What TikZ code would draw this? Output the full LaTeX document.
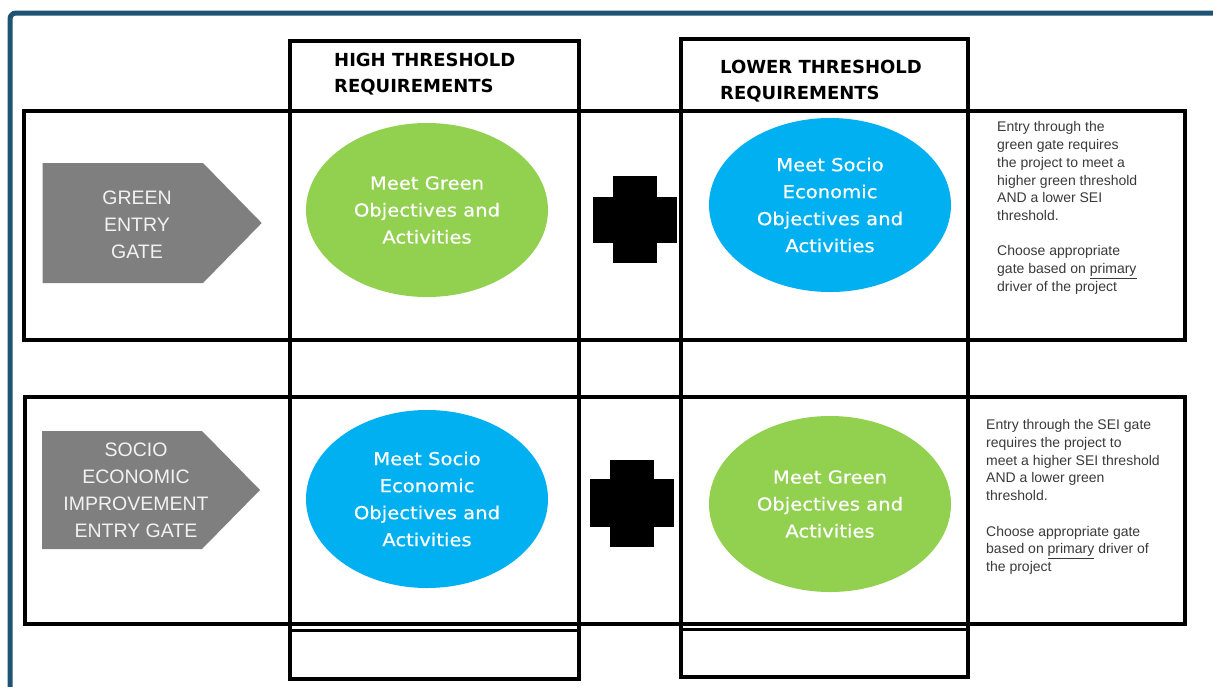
\documentclass[tikz,border=0pt]{standalone}
\usepackage{fontspec}
\setmainfont{Liberation Sans}
\newfontfamily\hdrfont{DejaVu Sans}
\newfontfamily\ellfont[FakeStretch=1.1,FakeBold=0.6]{DejaVu Sans}
\usetikzlibrary{shapes.geometric}
\definecolor{frameblue}{HTML}{1F5374}
\definecolor{gatefill}{HTML}{7F7F7F}
\definecolor{gtext}{HTML}{F2F2F2}
\definecolor{greenfill}{HTML}{92D050}
\definecolor{bluefill}{HTML}{00B0F0}
\definecolor{notetext}{HTML}{3A3A3A}
\tikzset{
  colbox/.style={draw=black, line width=3.5pt},
  rowbox/.style={draw=black, line width=4pt},
  oval/.style={ellipse, minimum width=242pt, inner sep=0pt, text=white, align=center,
    font=\ellfont\fontsize{17.8}{27}\selectfont},
  gateshape/.style={fill=gatefill},
  gatetext/.style={text=gtext, align=center, inner sep=0pt, font=\fontsize{19.5}{27}\selectfont},
  hdr/.style={anchor=west, align=left, inner sep=0pt, font=\hdrfont\bfseries\fontsize{18}{26}\selectfont},
  note/.style={anchor=west, align=left, inner sep=0pt, text=notetext, font=\fontsize{14}{17.7}\selectfont},
  plusbar/.style={fill=black}
}
\begin{document}
\begin{tikzpicture}[x=1pt,y=-1pt]
\useasboundingbox (0,0) rectangle (1213,686);
\fill[white] (0,0) rectangle (1213,686);
\begin{scope}
\clip (0,0) rectangle (1213,686);
\draw[frameblue, line width=5pt, rounded corners=6pt] (10,13) rectangle (1260,740);
\end{scope}

% columns
\draw[colbox] (290,41) rectangle (579,679);
\draw[colbox] (681,39) rectangle (968,677);
\draw[colbox, line width=3pt] (290,630.5) -- (579,630.5);
\draw[colbox, line width=3pt] (681,629.5) -- (968,629.5);

% rows
\draw[rowbox] (24,111) rectangle (1185,340);
\draw[rowbox] (25,397) rectangle (1185,624);

% headers
\node[hdr] (h1) at (334,74) {HIGH THRESHOLD\\REQUIREMENTS};
\node[hdr] (h2) at (720,81) {LOWER THRESHOLD\\REQUIREMENTS};

% gates
\fill[gateshape] (42.7,163) -- (203,163) -- (261.7,223) -- (203,283) -- (42.7,283) -- cycle;
\node[gatetext] (gt1) at (137,225) {GREEN\\ENTRY\\GATE};
\fill[gateshape] (42,431) -- (202,431) -- (260,490) -- (202,549) -- (42,549) -- cycle;
\node[gatetext] (gt2) at (136,490) {SOCIO\\ECONOMIC\\IMPROVEMENT\\ENTRY GATE};

% ellipses
\node[oval, fill=greenfill, minimum height=174pt] (e1) at (427,210) {Meet Green\\Objectives and\\Activities};
\node[oval, fill=bluefill, minimum height=174pt] (e2) at (830,205) {Meet Socio\\Economic\\Objectives and\\Activities};
\node[oval, fill=bluefill, minimum height=178pt] (e3) at (427,499) {Meet Socio\\Economic\\Objectives and\\Activities};
\node[oval, fill=greenfill, minimum height=176pt] (e4) at (830,504) {Meet Green\\Objectives and\\Activities};

% plus signs
\fill[plusbar] (613,176) rectangle (657,263);
\fill[plusbar] (593,197) rectangle (677,243);
\fill[plusbar] (610,460) rectangle (654,547);
\fill[plusbar] (590,479) rectangle (674,527);

% notes
\node[note] (n1) at (997,208) {Entry through the\\green gate requires\\the project to meet a\\higher green threshold\\AND a lower SEI\\threshold.\\[17.7pt]Choose appropriate\\gate based on \underline{primary}\\driver of the project};
\node[note] (n2) at (986,497) {Entry through the SEI gate\\requires the project to\\meet a higher SEI threshold\\AND a lower green\\threshold.\\[17.7pt]Choose appropriate gate\\based on \underline{primary} driver of\\the project};
\end{tikzpicture}
\end{document}
